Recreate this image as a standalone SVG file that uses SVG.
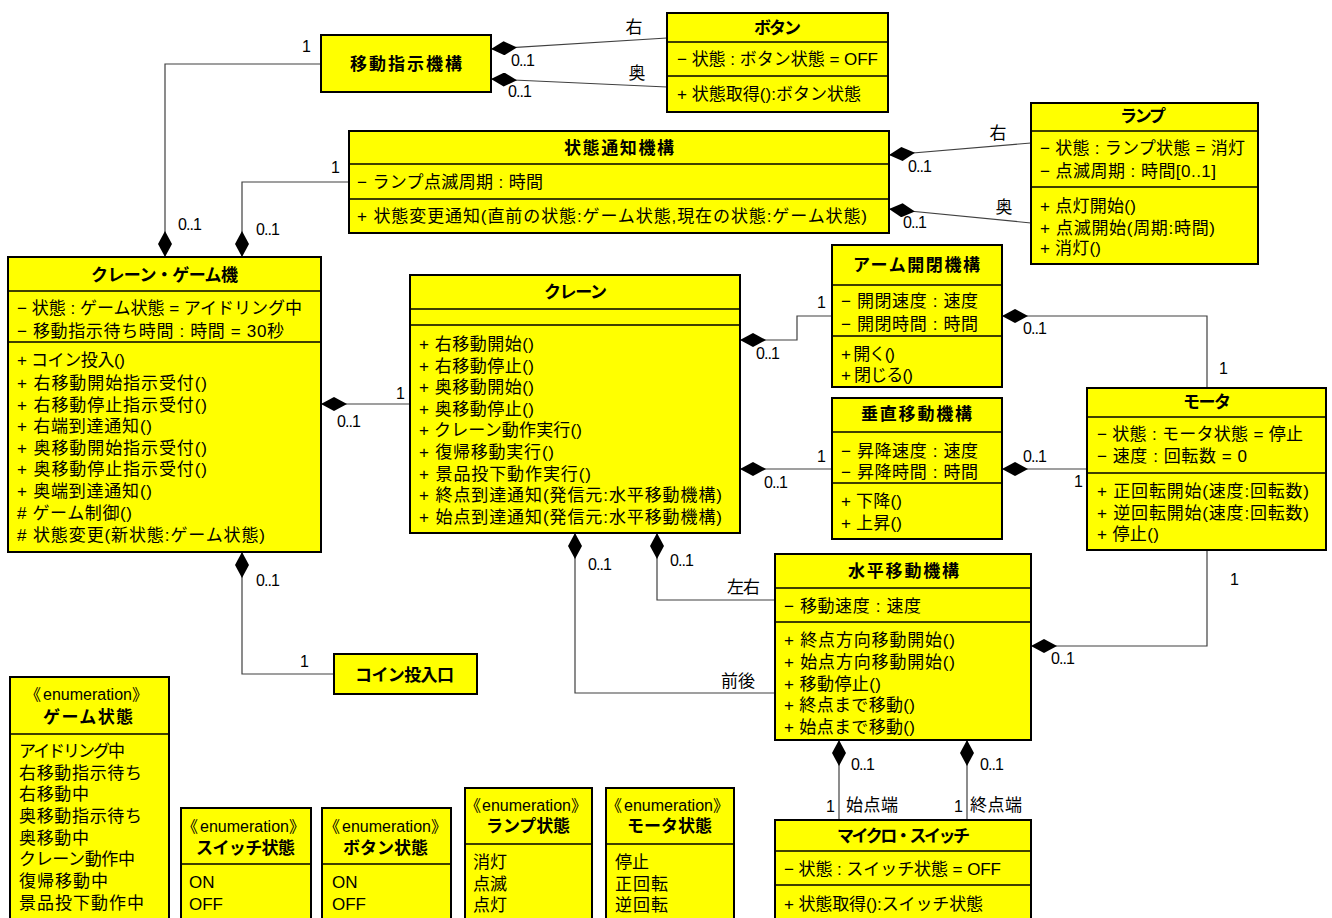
<svg xmlns="http://www.w3.org/2000/svg" width="1332" height="918" viewBox="0 0 1332 918">
<defs>
<style>
.box{fill:#ffff00;stroke:#000;stroke-width:2}
.dv{stroke:#000;stroke-width:1.5}
.t{font-family:"Liberation Sans","Noto Sans CJK JP",sans-serif;font-size:17px;fill:#000}
.l{font-family:"Liberation Sans","Noto Sans CJK JP",sans-serif;font-size:16px;fill:#000}
.b{font-weight:bold}
.m{text-anchor:middle}
.cd{stroke:#404040;stroke-width:1.2;fill:none;marker-start:url(#dia)}
</style>
<marker id="dia" viewBox="0 0 26 14" refX="0" refY="7" markerWidth="26" markerHeight="14" markerUnits="userSpaceOnUse" orient="auto"><path d="M0,7 L13,0 L26,7 L13,14 Z" fill="#000"/></marker>
</defs>
<rect width="1332" height="918" fill="#fff"/>

<g id="connectors">
<path class="cd" d="M165,257 V64 H321"/>
<path class="cd" d="M242,257 V182 H349"/>
<path class="cd" d="M491,49 L667,38"/>
<path class="cd" d="M491,79 L667,87"/>
<path class="cd" d="M889,155 L1031,143"/>
<path class="cd" d="M889,209 L1031,223"/>
<path class="cd" d="M321,404 H410"/>
<path class="cd" d="M740,340 H797 V316 H832"/>
<path class="cd" d="M740,469 H832"/>
<path class="cd" d="M1002,316 H1207 V388"/>
<path class="cd" d="M1002,469 H1087"/>
<path class="cd" d="M1031,646 H1207 V550"/>
<path class="cd" d="M657,533 V600 H775"/>
<path class="cd" d="M575,533 V693 H775"/>
<path class="cd" d="M839,740 V820"/>
<path class="cd" d="M967,740 V820"/>
<path class="cd" d="M242,552 V674 H334"/>
<text class="l" x="302" y="52">1</text>
<text class="l" x="178" y="230" textLength="24">0..1</text>
<text class="l" x="331" y="173">1</text>
<text class="l" x="256" y="235" textLength="24">0..1</text>
<text class="t m" x="634" y="33">右</text>
<text class="l" x="511" y="66" textLength="24">0..1</text>
<text class="t m" x="637" y="79">奥</text>
<text class="l" x="508" y="97" textLength="24">0..1</text>
<text class="t m" x="998" y="139">右</text>
<text class="l" x="908" y="172" textLength="24">0..1</text>
<text class="t m" x="1004" y="213">奥</text>
<text class="l" x="903" y="228" textLength="24">0..1</text>
<text class="l" x="396" y="399">1</text>
<text class="l" x="337" y="427" textLength="24">0..1</text>
<text class="l" x="817" y="308">1</text>
<text class="l" x="756" y="359" textLength="24">0..1</text>
<text class="l" x="817" y="462">1</text>
<text class="l" x="764" y="488" textLength="24">0..1</text>
<text class="l" x="1023" y="334" textLength="24">0..1</text>
<text class="l" x="1219" y="374">1</text>
<text class="l" x="1023" y="462" textLength="24">0..1</text>
<text class="l" x="1074" y="487">1</text>
<text class="l" x="1230" y="585">1</text>
<text class="l" x="1051" y="664" textLength="24">0..1</text>
<text class="l" x="670" y="566" textLength="24">0..1</text>
<text class="t" x="727" y="593" textLength="33">左右</text>
<text class="l" x="588" y="570" textLength="24">0..1</text>
<text class="t" x="721" y="687" textLength="34">前後</text>
<text class="l" x="851" y="770" textLength="24">0..1</text>
<text class="l" x="826" y="812">1</text>
<text class="t" x="846" y="811" textLength="52">始点端</text>
<text class="l" x="980" y="770" textLength="24">0..1</text>
<text class="l" x="954" y="812">1</text>
<text class="t" x="970" y="811" textLength="52">終点端</text>
<text class="l" x="256" y="586" textLength="24">0..1</text>
<text class="l" x="300" y="667">1</text>
</g>

<g id="idou-shiji-kikou">
<rect class="box" x="321" y="35" width="170" height="57"/>
<text class="t b" x="350" y="70" textLength="112">移動指示機構</text>
</g>

<g id="button">
<rect class="box" x="667" y="13" width="221" height="99"/>
<line class="dv" x1="667" y1="42" x2="888" y2="42"/>
<line class="dv" x1="667" y1="76" x2="888" y2="76"/>
<text class="t b" x="754" y="34" textLength="47">ボタン</text>
<text class="t" x="677" y="65" textLength="201">− 状態 : ボタン状態 = OFF</text>
<text class="t" x="677" y="100" textLength="184">+ 状態取得():ボタン状態</text>
</g>

<g id="joutai-tsuchi-kikou">
<rect class="box" x="349" y="131" width="540" height="102"/>
<line class="dv" x1="349" y1="164" x2="889" y2="164"/>
<line class="dv" x1="349" y1="199" x2="889" y2="199"/>
<text class="t b" x="564" y="154" textLength="110">状態通知機構</text>
<text class="t" x="357" y="188" textLength="186">− ランプ点滅周期 : 時間</text>
<text class="t" x="357" y="222" textLength="510">+ 状態変更通知(直前の状態:ゲーム状態,現在の状態:ゲーム状態)</text>
</g>

<g id="lamp">
<rect class="box" x="1031" y="103" width="227" height="161"/>
<line class="dv" x1="1031" y1="131" x2="1258" y2="131"/>
<line class="dv" x1="1031" y1="187" x2="1258" y2="187"/>
<text class="t b" x="1120" y="122" textLength="46">ランプ</text>
<text class="t" x="1040" y="154" textLength="205">− 状態 : ランプ状態 = 消灯</text>
<text class="t" x="1040" y="177" textLength="176">− 点滅周期 : 時間[0..1]</text>
<text class="t" x="1040" y="212" textLength="96">+ 点灯開始()</text>
<text class="t" x="1040" y="234" textLength="175">+ 点滅開始(周期:時間)</text>
<text class="t" x="1040" y="254" textLength="61">+ 消灯()</text>
</g>

<g id="crane-game">
<rect class="box" x="8" y="257" width="313" height="295"/>
<line class="dv" x1="8" y1="291" x2="321" y2="291"/>
<line class="dv" x1="8" y1="342" x2="321" y2="342"/>
<text class="t b" x="91" y="281" textLength="147">クレーン・ゲーム機</text>
<text class="t" x="17" y="314" textLength="285">− 状態 : ゲーム状態 = アイドリング中</text>
<text class="t" x="17" y="337" textLength="267">− 移動指示待ち時間 : 時間 = 30秒</text>
<text class="t" x="17" y="366" textLength="108">+ コイン投入()</text>
<text class="t" x="17" y="389" textLength="190">+ 右移動開始指示受付()</text>
<text class="t" x="17" y="411" textLength="190">+ 右移動停止指示受付()</text>
<text class="t" x="17" y="432" textLength="135">+ 右端到達通知()</text>
<text class="t" x="17" y="454" textLength="190">+ 奥移動開始指示受付()</text>
<text class="t" x="17" y="475" textLength="190">+ 奥移動停止指示受付()</text>
<text class="t" x="17" y="497" textLength="135">+ 奥端到達通知()</text>
<text class="t" x="17" y="519" textLength="115"># ゲーム制御()</text>
<text class="t" x="17" y="541" textLength="248"># 状態変更(新状態:ゲーム状態)</text>
</g>

<g id="crane">
<rect class="box" x="410" y="275" width="330" height="258"/>
<line class="dv" x1="410" y1="309" x2="740" y2="309"/>
<line class="dv" x1="410" y1="325" x2="740" y2="325"/>
<text class="t b" x="544" y="298" textLength="63">クレーン</text>
<text class="t" x="419" y="350" textLength="115">+ 右移動開始()</text>
<text class="t" x="419" y="372" textLength="115">+ 右移動停止()</text>
<text class="t" x="419" y="393" textLength="115">+ 奥移動開始()</text>
<text class="t" x="419" y="415" textLength="115">+ 奥移動停止()</text>
<text class="t" x="419" y="436" textLength="163">+ クレーン動作実行()</text>
<text class="t" x="419" y="458" textLength="135">+ 復帰移動実行()</text>
<text class="t" x="419" y="480" textLength="172">+ 景品投下動作実行()</text>
<text class="t" x="419" y="501" textLength="303">+ 終点到達通知(発信元:水平移動機構)</text>
<text class="t" x="419" y="523" textLength="303">+ 始点到達通知(発信元:水平移動機構)</text>
</g>

<g id="arm-kaihei-kikou">
<rect class="box" x="832" y="245" width="170" height="142"/>
<line class="dv" x1="832" y1="285" x2="1002" y2="285"/>
<line class="dv" x1="832" y1="336" x2="1002" y2="336"/>
<text class="t b" x="853" y="271" textLength="127">アーム開閉機構</text>
<text class="t" x="841" y="307" textLength="137">− 開閉速度 : 速度</text>
<text class="t" x="841" y="330" textLength="137">− 開閉時間 : 時間</text>
<text class="t" x="841" y="360" textLength="54">+ 開く()</text>
<text class="t" x="841" y="381" textLength="72">+ 閉じる()</text>
</g>

<g id="suichoku-idou-kikou">
<rect class="box" x="832" y="398" width="170" height="141"/>
<line class="dv" x1="832" y1="432" x2="1002" y2="432"/>
<line class="dv" x1="832" y1="483" x2="1002" y2="483"/>
<text class="t b" x="861" y="420" textLength="111">垂直移動機構</text>
<text class="t" x="841" y="457" textLength="137">− 昇降速度 : 速度</text>
<text class="t" x="841" y="478" textLength="137">− 昇降時間 : 時間</text>
<text class="t" x="841" y="507" textLength="61">+ 下降()</text>
<text class="t" x="841" y="529" textLength="61">+ 上昇()</text>
</g>

<g id="motor">
<rect class="box" x="1087" y="388" width="239" height="162"/>
<line class="dv" x1="1087" y1="417" x2="1326" y2="417"/>
<line class="dv" x1="1087" y1="473" x2="1326" y2="473"/>
<text class="t b" x="1183" y="408" textLength="48">モータ</text>
<text class="t" x="1097" y="440" textLength="206">− 状態 : モータ状態 = 停止</text>
<text class="t" x="1097" y="462" textLength="150">− 速度 : 回転数 = 0</text>
<text class="t" x="1097" y="497" textLength="212">+ 正回転開始(速度:回転数)</text>
<text class="t" x="1097" y="519" textLength="212">+ 逆回転開始(速度:回転数)</text>
<text class="t" x="1097" y="540" textLength="62">+ 停止()</text>
</g>

<g id="suihei-idou-kikou">
<rect class="box" x="775" y="554" width="256" height="186"/>
<line class="dv" x1="775" y1="588" x2="1031" y2="588"/>
<line class="dv" x1="775" y1="622" x2="1031" y2="622"/>
<text class="t b" x="848" y="577" textLength="111">水平移動機構</text>
<text class="t" x="784" y="612" textLength="137">− 移動速度 : 速度</text>
<text class="t" x="784" y="646" textLength="171">+ 終点方向移動開始()</text>
<text class="t" x="784" y="668" textLength="171">+ 始点方向移動開始()</text>
<text class="t" x="784" y="690" textLength="97">+ 移動停止()</text>
<text class="t" x="784" y="711" textLength="131">+ 終点まで移動()</text>
<text class="t" x="784" y="733" textLength="131">+ 始点まで移動()</text>
</g>

<g id="micro-switch">
<rect class="box" x="775" y="820" width="256" height="110"/>
<line class="dv" x1="775" y1="851" x2="1031" y2="851"/>
<line class="dv" x1="775" y1="885" x2="1031" y2="885"/>
<text class="t b" x="837" y="842" textLength="133">マイクロ・スイッチ</text>
<text class="t" x="784" y="875" textLength="217">− 状態 : スイッチ状態 = OFF</text>
<text class="t" x="784" y="910" textLength="199">+ 状態取得():スイッチ状態</text>
</g>

<g id="coin-slot">
<rect class="box" x="334" y="654" width="143" height="40"/>
<text class="t b" x="355" y="681" textLength="99">コイン投入口</text>
</g>

<g id="enum-game-state">
<rect class="box" x="10" y="677" width="159" height="260"/>
<line class="dv" x1="10" y1="734" x2="169" y2="734"/>
<text class="l" y="700"><tspan x="25">《</tspan><tspan x="43">enumeration</tspan><tspan x="132">》</tspan></text>
<text class="t b" x="43" y="723" textLength="90">ゲーム状態</text>
<text class="t" x="19" y="757" textLength="106">アイドリング中</text>
<text class="t" x="19" y="779" textLength="123">右移動指示待ち</text>
<text class="t" x="19" y="800" textLength="70">右移動中</text>
<text class="t" x="19" y="822" textLength="123">奥移動指示待ち</text>
<text class="t" x="19" y="844" textLength="70">奥移動中</text>
<text class="t" x="19" y="865" textLength="116">クレーン動作中</text>
<text class="t" x="19" y="887" textLength="89">復帰移動中</text>
<text class="t" x="19" y="909" textLength="125">景品投下動作中</text>
</g>

<g id="enum-switch-state">
<rect class="box" x="181" y="808" width="130" height="130"/>
<line class="dv" x1="181" y1="864" x2="311" y2="864"/>
<text class="l" y="832"><tspan x="182">《</tspan><tspan x="200">enumeration</tspan><tspan x="289">》</tspan></text>
<text class="t b" x="196" y="854" textLength="99">スイッチ状態</text>
<text class="t" x="189" y="888">ON</text>
<text class="t" x="189" y="910">OFF</text>
</g>

<g id="enum-button-state">
<rect class="box" x="322" y="808" width="129" height="130"/>
<line class="dv" x1="322" y1="864" x2="451" y2="864"/>
<text class="l" y="832"><tspan x="324">《</tspan><tspan x="342">enumeration</tspan><tspan x="431">》</tspan></text>
<text class="t b" x="343" y="854" textLength="85">ボタン状態</text>
<text class="t" x="332" y="888">ON</text>
<text class="t" x="332" y="910">OFF</text>
</g>

<g id="enum-lamp-state">
<rect class="box" x="465" y="788" width="127" height="150"/>
<line class="dv" x1="465" y1="844" x2="592" y2="844"/>
<text class="l" y="811"><tspan x="465">《</tspan><tspan x="482">enumeration</tspan><tspan x="571">》</tspan></text>
<text class="t b" x="486" y="832" textLength="84">ランプ状態</text>
<text class="t" x="473" y="868" textLength="34">消灯</text>
<text class="t" x="473" y="890" textLength="34">点滅</text>
<text class="t" x="473" y="911" textLength="34">点灯</text>
</g>

<g id="enum-motor-state">
<rect class="box" x="606" y="788" width="128" height="150"/>
<line class="dv" x1="606" y1="844" x2="734" y2="844"/>
<text class="l" y="811"><tspan x="606">《</tspan><tspan x="624">enumeration</tspan><tspan x="713">》</tspan></text>
<text class="t b" x="627" y="832" textLength="85">モータ状態</text>
<text class="t" x="615" y="868" textLength="34">停止</text>
<text class="t" x="615" y="890" textLength="53">正回転</text>
<text class="t" x="615" y="911" textLength="53">逆回転</text>
</g>
</svg>
